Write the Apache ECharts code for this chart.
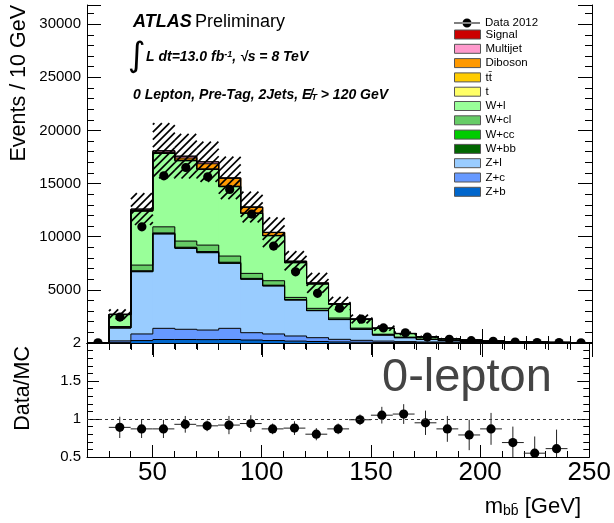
<!DOCTYPE html>
<html><head><meta charset="utf-8">
<script src="https://cdn.jsdelivr.net/npm/echarts@6/dist/echarts.min.js"></script>
<style>html,body{margin:0;padding:0;background:#fff}#c{width:614px;height:523px}</style>
</head><body><div id="c"></div>
<script>
// ---------- data (bins of 10 GeV, low edges) ----------
const binLow = [20,30,40,50,60,70,80,90,100,110,120,130,140,150,160,170,180,190,200,210,220,230,240];
const binWidth = 10;
const zb   = [0,60,230,330,330,320,330,280,230,180,140,100,70,50,35,25,18,12,9,6,4,3,2];
const zc   = [0,140,620,1050,960,900,1050,690,620,480,360,245,180,130,95,70,52,38,26,19,14,9,6];
const zl   = [0,1210,5850,8870,7610,7270,6110,5020,4510,3380,2540,1855,1040,570,370,235,150,100,65,45,32,23,17];
const wbb  = [0,10,40,45,45,45,45,35,30,18,14,10,7,5,4,3,2,1,1,1,0,0,0];
const wcc  = [0,15,60,65,65,70,65,55,50,27,21,15,11,8,6,4,3,2,2,1,1,1,0];
const wcl  = [0,115,530,570,580,605,580,470,420,205,185,125,92,67,45,33,23,17,11,8,6,4,3];
const wl   = [0,1120,5070,6900,7550,7110,6520,5640,4230,3260,2290,1300,815,540,325,200,142,100,66,40,28,20,12];
const stop = [0,5,20,25,25,25,20,15,12,8,6,5,4,3,2,2,1,1,1,0,0,0,0];
const ttbar= [0,10,30,40,40,40,35,30,25,20,15,12,10,8,6,4,3,2,2,1,1,1,0];
const dib  = [0,10,50,60,200,480,740,530,260,95,50,30,20,15,10,6,4,3,2,1,1,1,0];
const mj   = [0,5,100,130,170,180,30,20,10,10,10,5,5,4,2,1,1,0,0,0,0,0,0];
const sig  = [0,0,1,2,3,5,10,15,20,25,30,10,5,2,1,1,0,0,0,0,0,0,0];
const mcUnc= [0,470,1500,2600,2100,1900,2000,1450,1400,940,940,630,420,250,160,100,70,50,35,25,18,12,8];
const dataEvents = [20,2440,10930,15730,16510,15630,14450,12130,9120,6700,4670,3280,2240,1420,960,555,345,218,160,84,48,38,15];
// ratio panel (bin centres 35..235)
const ratioX   = [35,45,55,65,75,85,95,105,115,125,135,145,155,165,175,185,195,205,215,225,235];
const ratioVal = [0.89,0.87,0.87,0.93,0.91,0.92,0.94,0.87,0.88,0.80,0.87,0.99,1.05,1.065,0.95,0.87,0.79,0.87,0.69,0.55,0.61];
const ratioErr = [0.14,0.12,0.12,0.11,0.07,0.12,0.11,0.07,0.09,0.08,0.07,0.07,0.11,0.13,0.16,0.17,0.20,0.21,0.21,0.22,0.25];
const yTicksTop = {min:0, max:31800, interval:5000};
const yTicksRatio = {min:0.5, max:2, interval:0.5};
const xRange = {min:20, max:250};

const FONT = 'Liberation Sans';
// stack: bottom to top
const layers = [
  {name:'Z+b', color:'#0066cc', v:zb},
  {name:'Z+c', color:'#6699ff', v:zc},
  {name:'Z+l', color:'#99ccff', v:zl},
  {name:'W+bb', color:'#006600', v:wbb},
  {name:'W+cc', color:'#00cc00', v:wcc},
  {name:'W+cl', color:'#66cc66', v:wcl},
  {name:'W+l', color:'#99ff99', v:wl},
  {name:'t', color:'#ffff66', v:stop},
  {name:'t\u0074\u0304', color:'#ffcc00', v:ttbar},
  {name:'Diboson', color:'#ff9900', v:dib},
  {name:'Multijet', color:'#ff99cc', v:mj},
  {name:'Signal', color:'#cc0000', v:sig}
];
let cum = binLow.map(()=>0);
layers.forEach(L=>{
  const base = cum.slice();
  cum = cum.map((c,i)=>c+L.v[i]);
  const top = cum.slice();
  L.data = binLow.map((lo,i)=>[lo, lo+binWidth, base[i], top[i], i>0?top[i-1]:0]);
});
const totals = cum;
const hatchData = binLow.map((lo,i)=>[lo, lo+binWidth, totals[i]-mcUnc[i], totals[i]+mcUnc[i]]);
const dataPts = binLow.map((lo,i)=>[lo+binWidth/2, dataEvents[i]]);
const ratioPts = ratioX.map((x,i)=>[x, ratioVal[i], ratioErr[i]]);

function layerItem(params, api){
  const lo=api.value(0), hi=api.value(1), b=api.value(2), t=api.value(3), pt=api.value(4);
  const a = api.coord([lo,t]), c = api.coord([hi,b]), p = api.coord([lo,pt]);
  const ch = [];
  if (c[1]-a[1] > 0.01) ch.push({type:'rect', z2:0, shape:{x:a[0], y:a[1], width:c[0]-a[0]+0.6, height:c[1]-a[1]}, style:{fill:api.visual('color')}});
  ch.push({type:'line', z2:10, shape:{x1:a[0], y1:a[1], x2:c[0], y2:a[1]}, style:{stroke:'#000', lineWidth:1}});
  ch.push({type:'line', z2:10, shape:{x1:a[0], y1:p[1], x2:a[0], y2:a[1]}, style:{stroke:'#000', lineWidth:1}});
  return {type:'group', children:ch};
}
function hatchItem(params, api){
  const lo=api.value(0), hi=api.value(1), b=api.value(2), t=api.value(3);
  const a = api.coord([lo,t]), c = api.coord([hi,b]);
  const x0=a[0], y0=a[1], x1=c[0], y1=c[1], sp=7.5, ch=[];
  for (let k=Math.ceil((x0+y0)/sp)*sp; k<=x1+y1; k+=sp){
    const xa=Math.max(x0,k-y1), xb=Math.min(x1,k-y0);
    if (xb>xa) ch.push({type:'line', shape:{x1:xa,y1:k-xa,x2:xb,y2:k-xb}, style:{stroke:'#000', lineWidth:1.7}});
  }
  return {type:'group', children:ch};
}
function dataItem(params, api){
  const p = api.coord([api.value(0), api.value(1)]);
  return {type:'circle', shape:{cx:p[0], cy:p[1], r:4.6}, style:{fill:'#000'}};
}
function ratioItem(params, api){
  const x=api.value(0), r=api.value(1), e=api.value(2);
  const c = api.coord([x,r]), u = api.coord([x,r+e]), d = api.coord([x,r-e]);
  const l = api.coord([x-binWidth/2,r]), h = api.coord([x+binWidth/2,r]);
  return {type:'group', children:[
    {type:'line', shape:{x1:c[0],y1:u[1],x2:c[0],y2:d[1]}, style:{stroke:'#222', lineWidth:1}},
    {type:'line', shape:{x1:l[0],y1:c[1],x2:h[0],y2:c[1]}, style:{stroke:'#222', lineWidth:1}},
    {type:'circle', shape:{cx:c[0], cy:c[1], r:4.6}, style:{fill:'#000'}}
  ]};
}

const tickTop = {show:true, inside:true, length:14, lineStyle:{color:'#000'}};
const minorTop = {show:true, splitNumber:5, length:7, lineStyle:{color:'#000'}};
const tickRat = {show:true, inside:true, length:12, lineStyle:{color:'#000'}};
const minorRat = {show:true, splitNumber:5, length:6, lineStyle:{color:'#000'}};
const axLine = {show:true, lineStyle:{color:'#000', width:1}};
function xAx(grid, pos, labels, tick, minor){
  return {type:'value', gridIndex:grid, position:pos, min:xRange.min, max:xRange.max, splitNumber:5,
    axisLine:axLine, axisTick:tick, minorTick:minor, splitLine:{show:false},
    axisLabel: labels ? {show:true, showMinLabel:false, fontFamily:FONT, fontSize:26, color:'#000', margin:3, formatter:v=>String(v)} : {show:false}};
}
function yAx(grid, pos, labels, rng, tick, minor){
  return {type:'value', gridIndex:grid, position:pos, min:rng.min, max:rng.max, interval:rng.interval,
    axisLine:axLine, axisTick:tick, minorTick:minor, splitLine:{show:false},
    axisLabel: labels ? Object.assign({show:true, fontFamily:FONT, fontSize:15, color:'#000', margin:6, formatter:v=>String(v)}, labels) : {show:false}};
}

const series = [];
layers.forEach(L=>{
  series.push({type:'custom', name:L.name, xAxisIndex:0, yAxisIndex:0, clip:true, z:2,
    itemStyle:{color:L.color}, encode:{x:[0,1], y:[2,3]}, renderItem:layerItem, data:L.data});
});
series.push({type:'custom', name:'MC uncertainty', xAxisIndex:0, yAxisIndex:0, clip:true, z:3,
  encode:{x:[0,1], y:[2,3]}, renderItem:hatchItem, data:hatchData});
series.push({type:'custom', name:'Data 2012', xAxisIndex:0, yAxisIndex:0, clip:true, z:4,
  itemStyle:{color:'#000'}, encode:{x:0, y:1}, renderItem:dataItem, data:dataPts});
series.push({type:'custom', name:'ratio', xAxisIndex:2, yAxisIndex:2, clip:true, z:4,
  encode:{x:0, y:1}, renderItem:ratioItem, data:ratioPts,
  markLine:{silent:true, symbol:'none', label:{show:false}, lineStyle:{type:[3,3], color:'#333', width:1}, data:[{yAxis:1}]}});

const legendNames = layers.slice().reverse().map(L=>({name:L.name, itemStyle:{borderColor:'#555', borderWidth:1}}));

const option = {
  animation:false,
  backgroundColor:'#fff',
  grid:[{left:87, top:5, width:505, height:338}, {left:87, top:343, width:505, height:114}],
  legend:[
    {orient:'vertical', left:454, top:17, padding:0, itemWidth:26, itemHeight:9, selectedMode:false,
     textStyle:{fontFamily:FONT, fontSize:11.5, color:'#000', lineHeight:9},
     data:[{name:'Data 2012', icon:'path://M0,4 L26,4 L26,5 L0,5 Z M8.5,4.5 A4.5,4.5 0 1,0 17.5,4.5 A4.5,4.5 0 1,0 8.5,4.5 Z'}]},
    {orient:'vertical', left:454, top:28.5, padding:0, itemWidth:26, itemHeight:9, itemGap:2.3, selectedMode:false, icon:'rect',
     textStyle:{fontFamily:FONT, fontSize:11.5, color:'#000', lineHeight:9},
     data:legendNames}
  ],
  xAxis:[
    xAx(0,'bottom',false,tickTop,minorTop),
    xAx(0,'top',false,tickTop,minorTop),
    xAx(1,'bottom',true,tickRat,minorRat),
    xAx(1,'top',false,tickRat,minorRat)
  ],
  yAxis:[
    yAx(0,'left',{showMinLabel:false, showMaxLabel:false},yTicksTop,tickTop,minorTop),
    yAx(0,'right',null,yTicksTop,tickTop,minorTop),
    yAx(1,'left',{},yTicksRatio,tickRat,minorRat),
    yAx(1,'right',null,yTicksRatio,tickRat,minorRat)
  ],
  series:series,
  graphic:[
    {type:'text', x:133, y:22, style:{text:'{a|ATLAS} {b|Preliminary}', textVerticalAlign:'middle',
      rich:{a:{fontFamily:FONT, fontSize:18, fontWeight:'bold', fontStyle:'italic', fill:'#000'},
            b:{fontFamily:FONT, fontSize:18, fill:'#000'}}}},
    {type:'text', x:128, y:57, style:{text:'\u222B', font:'34px "DejaVu Sans"', fill:'#000', textVerticalAlign:'middle'}},
    {type:'text', x:146, y:57, style:{text:'{t|L dt=13.0 fb}{s|-1}{t|, \u221As = 8 TeV}', textVerticalAlign:'middle',
      rich:{t:{fontFamily:FONT, fontSize:14, fontWeight:'bold', fontStyle:'italic', fill:'#000'},
            s:{fontFamily:FONT, fontSize:9, fontWeight:'bold', fontStyle:'italic', fill:'#000', verticalAlign:'top'}}}},
    {type:'text', x:133, y:95, style:{text:'{t|0 Lepton, Pre-Tag, 2Jets, E\u0338}{u|T}{t| > 120 GeV}', textVerticalAlign:'middle',
      rich:{t:{fontFamily:FONT, fontSize:14, fontWeight:'bold', fontStyle:'italic', fill:'#000'},
            u:{fontFamily:FONT, fontSize:9, fontWeight:'bold', fontStyle:'italic', fill:'#000', verticalAlign:'bottom'}}}},
    {type:'text', x:19, y:5, rotation:Math.PI/2, style:{text:'Events / 10 GeV', font:'21.5px "Liberation Sans"', fill:'#000', textAlign:'right', textVerticalAlign:'middle'}},
    {type:'text', x:23, y:346, rotation:Math.PI/2, style:{text:'Data/MC', font:'21.5px "Liberation Sans"', fill:'#000', textAlign:'right', textVerticalAlign:'middle'}},
    {type:'text', x:382, y:378, style:{text:'0-lepton', font:'47px "Liberation Sans"', fill:'#444', textVerticalAlign:'middle'}},
    {type:'text', x:581, y:507, style:{text:'{m|m}{s|bb\u0304}{m| [GeV]}', textAlign:'right', textVerticalAlign:'middle',
      rich:{m:{fontFamily:FONT, fontSize:22, fill:'#000'}, s:{fontFamily:FONT, fontSize:14, fill:'#000', verticalAlign:'bottom'}}}}
  ]
};
const chart = echarts.init(document.getElementById('c'), null, {renderer:'canvas'});
chart.setOption(option);
</script>
</body></html>
